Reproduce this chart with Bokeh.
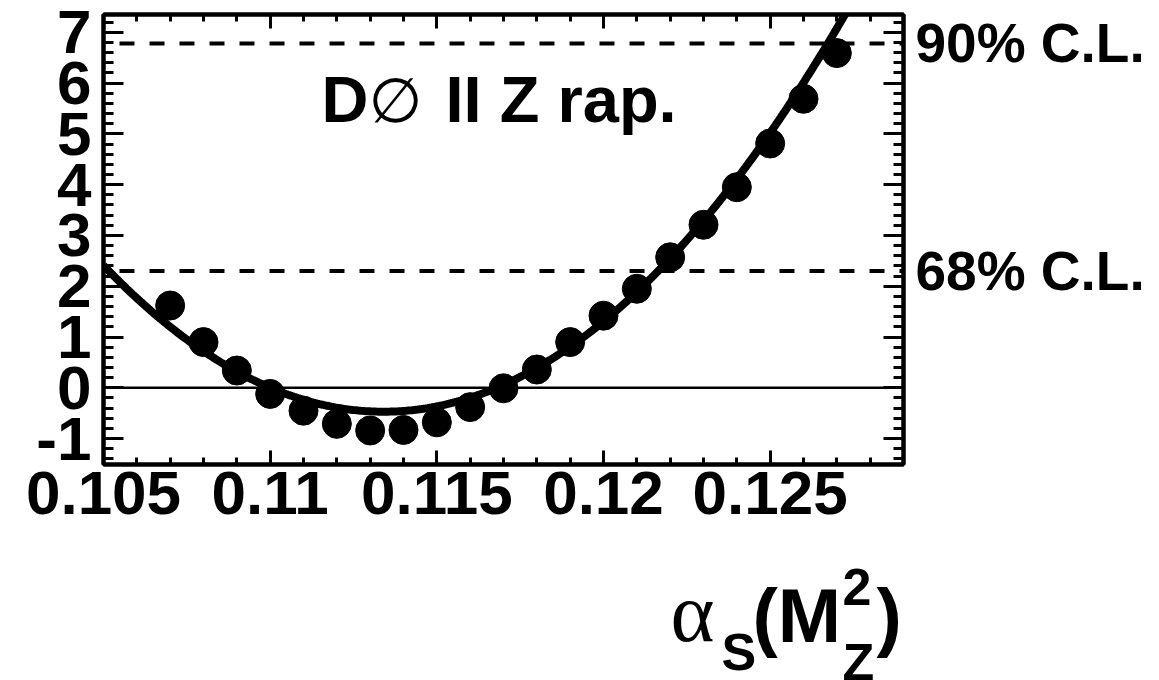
import numpy as np
from bokeh.plotting import figure
from bokeh.layouts import column
from bokeh.models import (LinearAxis, FixedTicker, CustomJSTickFormatter, Span, Label, Range1d)
from bokeh.embed import file_html
from bokeh.resources import INLINE

# chi-square scan versus alpha_s(M_Z^2)
alpha_s = [0.107, 0.108, 0.109, 0.110, 0.111, 0.112, 0.113, 0.114, 0.115, 0.116,
           0.117, 0.118, 0.119, 0.120, 0.121, 0.122, 0.123, 0.124, 0.125, 0.126, 0.127]
delta_chi2 = [1.62, 0.90, 0.34, -0.12, -0.45, -0.71, -0.84, -0.83, -0.68, -0.38,
              -0.01, 0.36, 0.90, 1.42, 1.95, 2.57, 3.21, 3.95, 4.81, 5.69, 6.59]

# quadratic fit to the scan: chi2 = curvature * (a - a_min)^2 + chi2_min
fit_alpha_min = 0.1134
fit_chi2_min = -0.47
fit_curvature = 40800.0

# confidence-level thresholds
cl_levels = [2.30, 6.78]
cl_labels = ["68% C.L.", "90% C.L."]

x_ticks = [0.105, 0.110, 0.115, 0.120, 0.125]
y_ticks = [-1, 0, 1, 2, 3, 4, 5, 6, 7]

X0, X1 = 0.105, 0.129
Y0, Y1 = -1.51, 7.35

W = 1159
H_MAIN, H_TITLE = 560, 120
FL, FT, FW, FH = 103, 14, 800, 450

# Label's alphabetic anchor sits a bit above the drawn baseline; this lifts it back
BASELINE_LIFT = 0.36

p = figure(width=W, height=H_MAIN, x_range=Range1d(X0, X1), y_range=Range1d(Y0, Y1),
           output_backend="svg", toolbar_location=None, title=None,
           min_border_left=FL, min_border_top=FT,
           min_border_right=W - FL - FW, min_border_bottom=H_MAIN - FT - FH)
p.background_fill_color = "white"
p.border_fill_color = "white"
p.outline_line_color = "black"
p.outline_line_width = 4
p.xgrid.visible = False
p.ygrid.visible = False

x_minor = [round(0.105 + 0.001 * i, 4) for i in range(0, 25)]
y_minor = [round(-1.4 + 0.2 * i, 2) for i in range(0, 44)]

fmt_x = CustomJSTickFormatter(code="return String(Number(tick.toFixed(3)));")
fmt_y = CustomJSTickFormatter(code="return tick.toFixed(0);")
fmt_blank = CustomJSTickFormatter(code="return '';")
fmt_cl = CustomJSTickFormatter(
    args=dict(levels=cl_levels, names=cl_labels),
    code="const i = levels.findIndex(v => Math.abs(v - tick) < 1e-6); return i >= 0 ? names[i] : '';")


def style_axis(ax, major_in, minor_in, labels=True):
    ax.axis_line_width = 4
    ax.axis_line_color = "black"
    ax.major_tick_in = major_in
    ax.major_tick_out = 0
    ax.minor_tick_in = minor_in
    ax.minor_tick_out = 0
    ax.major_tick_line_width = 3
    ax.minor_tick_line_width = 3
    ax.major_tick_line_color = "black"
    ax.minor_tick_line_color = "black"
    ax.major_label_text_font = "Liberation Sans"
    ax.major_label_text_font_style = "bold"
    ax.major_label_text_color = "black"
    if labels:
        ax.major_label_text_font_size = "62px"
    else:
        ax.formatter = fmt_blank
        ax.major_label_text_font_size = "10px"
        ax.major_label_standoff = 0


# bottom / top axes
xb = p.xaxis[0]
xb.ticker = FixedTicker(ticks=x_ticks, minor_ticks=x_minor)
xb.formatter = fmt_x
style_axis(xb, 14, 7)
xb.major_label_standoff = 7

xt = LinearAxis(ticker=FixedTicker(ticks=x_ticks, minor_ticks=x_minor))
style_axis(xt, 14, 7, labels=False)
p.add_layout(xt, "above")

# left / right axes
yl = p.yaxis[0]
yl.ticker = FixedTicker(ticks=y_ticks, minor_ticks=y_minor)
yl.formatter = fmt_y
style_axis(yl, 20, 10)
yl.major_label_standoff = 12

yr = LinearAxis(ticker=FixedTicker(ticks=y_ticks, minor_ticks=y_minor))
style_axis(yr, 20, 10, labels=False)
p.add_layout(yr, "right")

# confidence-level captions beside the frame
ycl = LinearAxis(ticker=FixedTicker(ticks=cl_levels), formatter=fmt_cl)
ycl.axis_line_color = None
ycl.major_tick_line_color = None
ycl.minor_tick_line_color = None
ycl.major_tick_in = 0
ycl.major_tick_out = 0
ycl.minor_tick_in = 0
ycl.minor_tick_out = 0
ycl.major_label_standoff = 12
ycl.major_label_text_font = "Liberation Sans"
ycl.major_label_text_font_style = "bold"
ycl.major_label_text_font_size = "55px"
ycl.major_label_text_color = "black"
p.add_layout(ycl, "right")

# zero line and confidence-level lines
p.add_layout(Span(location=0, dimension="width", line_color="black", line_width=2.5))
for lvl in cl_levels:
    p.add_layout(Span(location=lvl, dimension="width", line_color="black",
                      line_width=4, line_dash="15 15", line_dash_offset=14))

# fitted parabola
xf = np.linspace(X0, 0.1285, 400)
yf = fit_curvature * (xf - fit_alpha_min) ** 2 + fit_chi2_min
p.line(xf, yf, line_color="black", line_width=8)

# scan points
p.scatter(alpha_s, delta_chi2, size=29, marker="circle", fill_color="black", line_color="black")


def at_px(px, py):
    return (X0 + (px - FL) / FW * (X1 - X0), Y1 - (py - FT) / FH * (Y1 - Y0))


def add_text(fig, px, py, text, size, font="Liberation Sans", style="bold", main=True):
    py = py - BASELINE_LIFT * size
    x, y = at_px(px, py) if main else (px, py)
    fig.add_layout(Label(x=x, y=y, text=text, text_font=font, text_font_style=style,
                         text_font_size=f"{size}px", text_color="black",
                         text_align="left", text_baseline="alphabetic"))


# experiment tag
add_text(p, 321, 122, "D", 65)
add_text(p, 368, 122, "\u2205", 62, font="DejaVu Sans", style="normal")
add_text(p, 445, 122, "II Z rap.", 65)

# x-axis title strip: alpha_s(M_Z^2), laid out in page pixels
# (its frame lines up with the frame above, so its x range spans the same columns)
t = figure(width=W, height=H_TITLE, x_range=Range1d(FL, FL + FW),
           y_range=Range1d(H_MAIN + H_TITLE, H_MAIN),
           output_backend="svg", toolbar_location=None, title=None,
           x_axis_location=None, y_axis_location=None,
           min_border_left=FL, min_border_right=W - FL - FW,
           min_border_top=0, min_border_bottom=0)
t.outline_line_color = None
t.grid.visible = False
t.background_fill_color = "white"
t.border_fill_color = "white"

add_text(t, 670, 642, "\u03b1", 84, font="Liberation Serif", style="normal", main=False)
add_text(t, 721, 670, "S", 52, main=False)
add_text(t, 752, 642, "(M", 76, main=False)
add_text(t, 842, 605, "2", 52, main=False)
add_text(t, 842, 680, "Z", 52, main=False)
add_text(t, 876, 642, ")", 76, main=False)

page = column(p, t, spacing=0)
open("out.html", "w").write(file_html(page, INLINE))
